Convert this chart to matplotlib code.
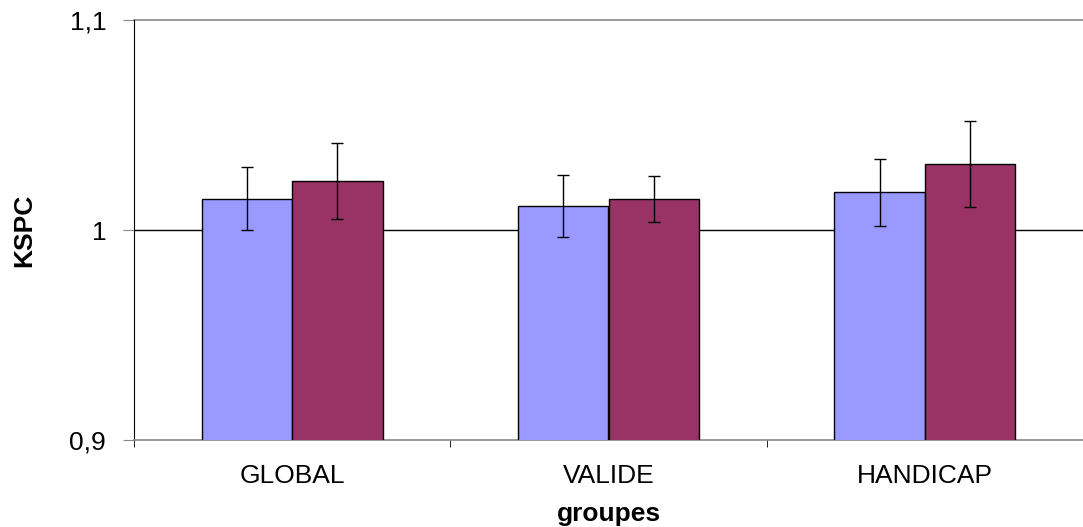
import matplotlib

matplotlib.use("Agg")
import matplotlib.pyplot as plt
import numpy as np

# ── data ──────────────────────────────────────────────────────────────────────
groups = ["GLOBAL", "VALIDE", "HANDICAP"]
serie_a = [1.0149, 1.0113, 1.0180]   # blue
serie_b = [1.0235, 1.0146, 1.0313]   # purple
err_a = [0.0150, 0.0147, 0.0159]
err_b = [0.0181, 0.0110, 0.0204]
yticks = [0.9, 1.0, 1.1]
ytick_labels = ["0,9", "1", "1,1"]

BLUE = "#9999FF"
PURPLE = "#993366"

plt.rcParams["font.family"] = ["Liberation Sans", "DejaVu Sans"]

W, H = 1083, 527
fig = plt.figure(figsize=(W / 100, H / 100), dpi=100)
ax = fig.add_axes([134 / W, (H - 440) / H, (W - 134) / W, 420 / H])

x = np.arange(len(groups))
bw = 0.286
ekw = dict(ecolor="black", elinewidth=1.0, capsize=4, capthick=1.0)
ax.bar(x - bw / 2, serie_a, bw, bottom=0, color=BLUE, edgecolor="black",
       linewidth=1.0, yerr=err_a, error_kw=ekw, zorder=3)
ax.bar(x + bw / 2, serie_b, bw, bottom=0, color=PURPLE, edgecolor="black",
       linewidth=1.0, yerr=err_b, error_kw=ekw, zorder=3)

ax.set_ylim(0.9, 1.1)
ax.set_xlim(-0.5, 2 + (W - 929) / 318)

ax.set_yticks(yticks)
ax.set_yticklabels(ytick_labels, fontsize=19)
ax.axhline(1.0, color="black", lw=1.0, zorder=1)
ax.axhline(1.1, color="#888888", lw=1.2, zorder=1, clip_on=False)

ax.set_xticks(x)
ax.set_xticklabels(groups, fontsize=19)
ax.set_xticks([-0.5, 0.5, 1.5, 2.5], minor=True)
ax.tick_params(axis="x", which="major", length=0, pad=17)
ax.tick_params(axis="x", which="minor", length=5, direction="out", color="black")
ax.tick_params(axis="y", length=8, direction="out", pad=12, color="#888888")

for s in ["top", "right"]:
    ax.spines[s].set_visible(False)
ax.spines["left"].set_color("black")
ax.spines["bottom"].set_color("#888888")
ax.spines["bottom"].set_linewidth(1.2)

ax.set_xlabel("groupes", fontsize=19, fontweight="bold", labelpad=10)
ax.set_ylabel("KSPC", fontsize=19, fontweight="bold", labelpad=24)

fig.savefig("out.png", dpi=100)
